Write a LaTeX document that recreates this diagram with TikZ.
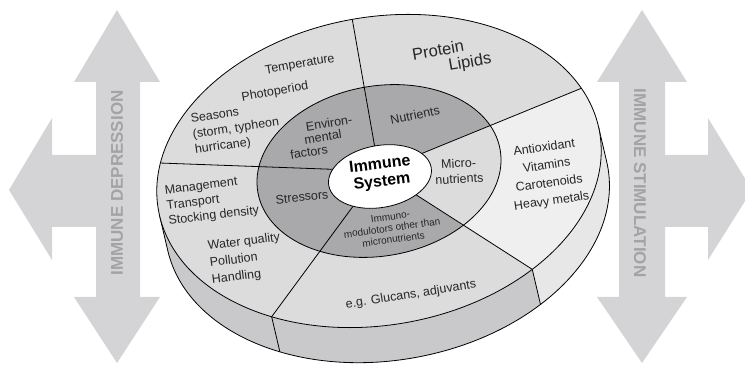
\documentclass[tikz,border=0pt]{standalone}
\usepackage{fontspec}
\setmainfont{Liberation Sans}
\definecolor{ringlight}{HTML}{DCDCDD}
\definecolor{ringpale}{HTML}{EFEFF0}
\definecolor{ringdark}{HTML}{A9A9AB}
\definecolor{sidegray}{HTML}{C9C9CB}
\definecolor{sidepale}{HTML}{E7E7E8}
\definecolor{arrowgray}{HTML}{D4D4D6}
\definecolor{arrowtext}{HTML}{A3A3A5}
\tikzset{
  lbl/.style={font=\fontsize{12.5}{15.5}\selectfont, inner sep=0pt, text=black!85},
  biglbl/.style={font=\fontsize{16.5}{19}\selectfont, inner sep=0pt, text=black!85},
  smalllbl/.style={font=\fontsize{10}{11.5}\selectfont, inner sep=0pt, align=center, text=black!85},
  arrowlbl/.style={font=\fontsize{17}{19}\selectfont\bfseries, text=arrowtext, inner sep=0pt},
  bigarrow/.style={fill=arrowgray},
  edge/.style={line width=0.8pt, draw=black}
}
\begin{document}
\begin{tikzpicture}[x=1pt,y=1pt]
\useasboundingbox (0,0) rectangle (745,366);

% left arrow
\fill[bigarrow] (117,356) -- (160,284) -- (140,284) -- (140,69) -- (160,69) -- (117,3)
  -- (74,69) -- (96,69) -- (96,139) -- (52,139) -- (52,106) -- (9,176) -- (52,248)
  -- (52,211) -- (96,211) -- (96,284) -- (74,284) -- cycle;
% right arrow
\fill[bigarrow] (642,356) -- (687,284) -- (665,284) -- (665,211) -- (708,211) -- (708,248)
  -- (752,176) -- (708,106) -- (708,139) -- (665,139) -- (665,69) -- (687,69) -- (642,3)
  -- (597,69) -- (619,69) -- (619,284) -- (597,284) -- cycle;
\node[arrowlbl, rotate=90] (dep) at (117,183) {IMMUNE DEPRESSION};
\node[arrowlbl, rotate=-90] (stim) at (640,183) {IMMUNE STIMULATION};

\begin{scope}[shift={(379,195)}, rotate=10]
  % side band
  \fill[sidegray] (2.26:224 and 154) -- ++(2,-36)
     arc[start angle=2.26, end angle=-177.74, x radius=224, y radius=154]
     -- (182.26:224 and 154)
     arc[start angle=182.26, end angle=362.26, x radius=224, y radius=154] -- cycle;
  \fill[sidepale] (-53.3:224 and 154)
     arc[start angle=-53.3, end angle=2.26, x radius=224, y radius=154] -- ++(2,-36)
     arc[start angle=2.26, end angle=-53.3, x radius=224, y radius=154] -- cycle;
  \draw[edge] (2.26:224 and 154) -- ++(2,-36)
     arc[start angle=2.26, end angle=-177.74, x radius=224, y radius=154]
     -- (182.26:224 and 154);
  \draw[edge] (-53.3:224 and 154) -- ++(2,-36);
  \draw[edge] (234.2:224 and 154) -- ++(2,-36);
  % top face
  \fill[ringlight] (0,0) ellipse[x radius=224, y radius=154];
  \fill[ringpale] (0,0) -- (-53.3:224 and 154)
     arc[start angle=-53.3, end angle=17.5, x radius=224, y radius=154] -- cycle;
  \fill[ringdark] (0,0) ellipse[x radius=123, y radius=85];
  \fill[ringlight] (0,0) -- (-53.3:123 and 85)
     arc[start angle=-53.3, end angle=17.5, x radius=123, y radius=85] -- cycle;
  \foreach \t in {17.5, 90, 162.7, 234.2, -53.3}
    \draw[edge] (0,0) -- (\t:224 and 154);
  \draw[edge] (0,0) ellipse[x radius=224, y radius=154];
  \draw[edge] (0,0) ellipse[x radius=123, y radius=85];
  \filldraw[edge, fill=white] (0,-5.6) ellipse[x radius=52, y radius=31];
\end{scope}

% labels
\node[lbl, rotate=10] (temp) at (300,301) {Temperature};
\node[lbl, rotate=10] (photo) at (275,274) {Photoperiod};
\node[lbl, rotate=8, align=left] (seasons) at (236,237) {Seasons\\(storm, typheon\\hurricane)};
\node[lbl, rotate=9] (env1) at (329,243) {Environ-};
\node[lbl, rotate=9] (env2) at (323,229) {mental};
\node[lbl, rotate=9] (env3) at (309,214) {factors};
\node[lbl, rotate=12] (nutr) at (415,251) {Nutrients};
\node[biglbl, rotate=10] (prot) at (438,316) {Protein};
\node[biglbl, rotate=10] (lip) at (470,303) {Lipids};
\node[lbl, rotate=3, align=center] (micro) at (459,195) {Micro-\\nutrients};
\node[lbl, rotate=8, align=center, font=\fontsize{12.5}{18}\selectfont] (anti) at (548,191)
  {Antioxidant\\Vitamins\\Carotenoids\\Heavy metals};
\node[font=\fontsize{16}{17.5}\selectfont\bfseries, rotate=7, align=center, inner sep=0pt] (imm)
  at (381,192) {Immune\\System};
\node[lbl, rotate=6] (stress) at (302,169) {Stressors};
\node[smalllbl, rotate=8] (immuno) at (392,138) {Immuno-\\modulotors other than\\micronutrients};
\node[lbl, rotate=7, align=left] (manage) at (212,165) {Management\\Transport\\Stocking density};
\node[lbl, rotate=7, align=left, font=\fontsize{12.5}{17}\selectfont] (water) at (246,107)
  {Water quality\\Pollution\\Handling};
\node[lbl, rotate=9] (gluc) at (411,71) {e.g. Glucans, adjuvants};
\end{tikzpicture}
\end{document}
